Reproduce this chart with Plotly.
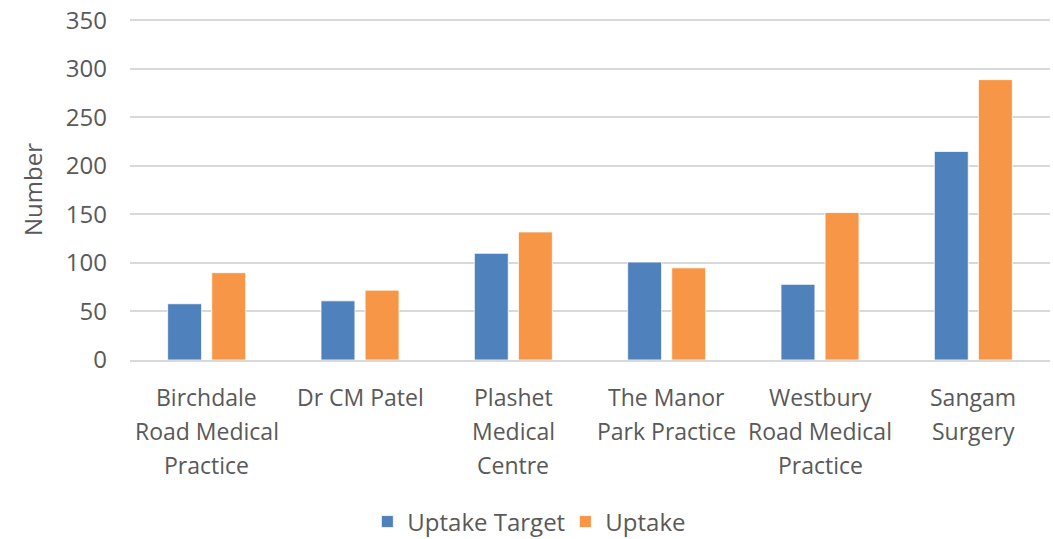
import plotly.graph_objects as go

categories = [
    "Birchdale<br>Road Medical<br>Practice",
    "Dr CM Patel",
    "Plashet<br>Medical<br>Centre",
    "The Manor<br>Park Practice",
    "Westbury<br>Road Medical<br>Practice",
    "Sangam<br>Surgery",
]
uptake_target = [58, 61, 110, 101, 78, 215]
uptake = [90, 72, 132, 95, 152, 289]
y_ticks = [0, 50, 100, 150, 200, 250, 300, 350]

font_family = "'Open Sans', Lato, sans-serif"
grey = "#595959"
fsize = 22

fig = go.Figure()
fig.add_trace(go.Bar(name="Uptake Target", x=categories, y=uptake_target,
                     marker=dict(color="#4f81bd", line=dict(color="#ffffff", width=0.8))))
fig.add_trace(go.Bar(name="Uptake", x=categories, y=uptake,
                     marker=dict(color="#f79646", line=dict(color="#ffffff", width=0.8))))

# category labels as text under the axis, one line at a time (Excel-like line spacing)
annotations = []
for cat in categories:
    for j, line in enumerate(cat.split("<br>")):
        annotations.append(dict(x=cat, y=0, xref="x", yref="y", text=line,
                                showarrow=False, yanchor="middle", xanchor="center",
                                yshift=-37 - 34 * j,
                                font=dict(family=font_family, size=23, color=grey)))

fig.update_layout(
    width=1053, height=539,
    margin=dict(l=130, r=3, t=19, b=179, autoexpand=False),
    paper_bgcolor="white", plot_bgcolor="white",
    barmode="group", bargap=0.425, bargroupgap=0.23,
    font=dict(family=font_family, color=grey, size=fsize),
    annotations=annotations,
    legend=dict(orientation="h", x=0.258, xanchor="left", y=-0.475, yanchor="middle",
                font=dict(size=24, color=grey), itemwidth=30, traceorder="normal",
                entrywidth=153, entrywidthmode="pixels"),
    xaxis=dict(showgrid=False, showline=True, linecolor="#d9d9d9", linewidth=1.5,
               ticks="", showticklabels=False),
    yaxis=dict(range=[0, 351.5], tickvals=y_ticks, showgrid=True, gridcolor="#d9d9d9",
               gridwidth=1.5, zeroline=False, ticks="",
               tickfont=dict(size=24, color=grey), ticklabelstandoff=22,
               title=dict(text="Number", font=dict(size=24, color=grey), standoff=16)),
)

# remove the browser's default 8px body margin so the figure fills the window
fig.write_html("out.html", config={"displayModeBar": False},
               post_script="document.body.style.margin='0';document.body.style.overflow='hidden';")
